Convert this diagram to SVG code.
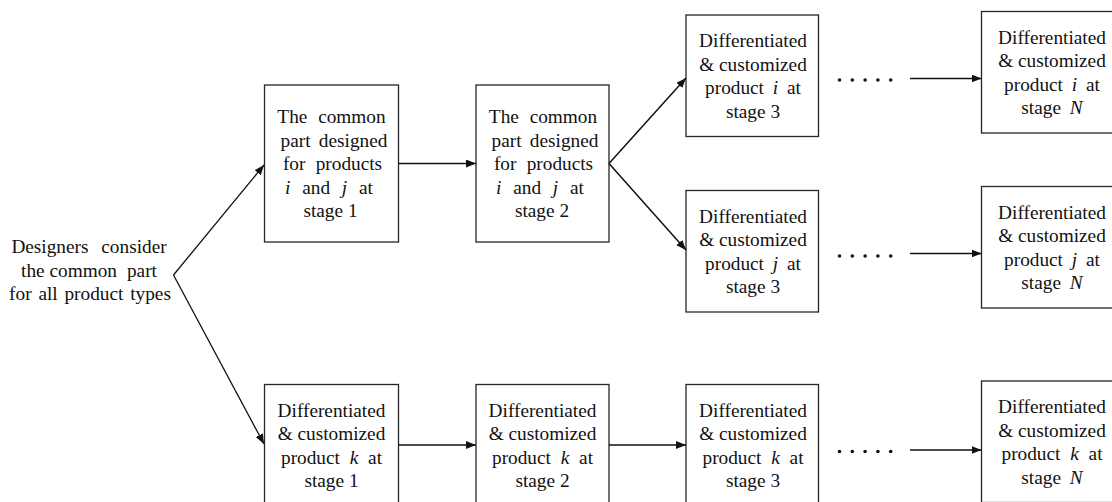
<svg xmlns="http://www.w3.org/2000/svg" width="1112" height="502" viewBox="0 0 1112 502">
<style>
.box{fill:#fff;stroke:#262626;stroke-width:1.3}
.t{font-family:"Liberation Serif","Times New Roman",serif;font-size:19.3px;fill:#111;text-anchor:middle}
.it{font-style:italic}
.c{fill:none;stroke:#111;stroke-width:1.5}
.d{fill:none;stroke:#111;stroke-width:1.3}
.dot{fill:#111}
</style>
<defs>
<marker id="ah" markerUnits="userSpaceOnUse" markerWidth="12" markerHeight="10" refX="10" refY="4" orient="auto">
<path d="M0,0 L10,4 L0,8 Z" fill="#111"/>
</marker>
</defs>
<rect width="1112" height="502" fill="#fff"/>

<g id="start">
<text class="t" x="89" y="253" word-spacing="8">Designers consider</text>
<text class="t" x="89" y="276.5"><tspan>the common</tspan><tspan dx="10">part</tspan></text>
<text class="t" x="90" y="300" word-spacing="2">for all product types</text>
</g>

<g id="common1">
<rect class="box" x="264.5" y="85" width="134" height="157"/>
<text class="t" x="331.5" y="123" word-spacing="6">The common</text>
<text class="t" x="334" y="146.5" word-spacing="3.5">part designed</text>
<text class="t" x="332.5" y="170" word-spacing="5.5">for products</text>
<text class="t" x="329" y="193.5" word-spacing="7">
<tspan class="it">i</tspan> and <tspan class="it">j</tspan> at</text>
<text class="t" x="330.5" y="217">stage 1</text>
</g>

<g id="common2">
<rect class="box" x="476" y="85" width="133" height="157"/>
<text class="t" x="543" y="123" word-spacing="6">The common</text>
<text class="t" x="545" y="146.5" word-spacing="3.5">part designed</text>
<text class="t" x="543.5" y="170" word-spacing="5.5">for products</text>
<text class="t" x="540" y="193.5" word-spacing="7"><tspan class="it">i</tspan> and <tspan class="it">j</tspan> at</text>
<text class="t" x="542" y="217">stage 2</text>
</g>

<g id="i3">
<rect class="box" x="686" y="15" width="132.5" height="121.5"/>
<text class="t" x="753" y="47">Differentiated</text>
<text class="t" x="753" y="70.5">&amp; customized</text>
<text class="t" x="753" y="94" word-spacing="4">product <tspan class="it">i</tspan> at</text>
<text class="t" x="753" y="117.5">stage 3</text>
</g>

<g id="iN">
<rect class="box" x="981.5" y="11.5" width="141" height="121.5"/>
<text class="t" x="1052" y="43.5">Differentiated</text>
<text class="t" x="1052" y="67">&amp; customized</text>
<text class="t" x="1052" y="90.5" word-spacing="4">product <tspan class="it">i</tspan> at</text>
<text class="t" x="1052" y="114" word-spacing="4">stage <tspan class="it">N</tspan></text>
</g>

<g id="j3">
<rect class="box" x="686" y="190.5" width="132.5" height="121.5"/>
<text class="t" x="753" y="222.5">Differentiated</text>
<text class="t" x="753" y="246">&amp; customized</text>
<text class="t" x="753" y="269.5" word-spacing="4">product <tspan class="it">j</tspan> at</text>
<text class="t" x="753" y="293">stage 3</text>
</g>

<g id="jN">
<rect class="box" x="981.5" y="186.5" width="141" height="121.5"/>
<text class="t" x="1052" y="218.5">Differentiated</text>
<text class="t" x="1052" y="242">&amp; customized</text>
<text class="t" x="1052" y="265.5" word-spacing="4">product <tspan class="it">j</tspan> at</text>
<text class="t" x="1052" y="289" word-spacing="4">stage <tspan class="it">N</tspan></text>
</g>

<g id="k1">
<rect class="box" x="264.5" y="384.5" width="134" height="121.5"/>
<text class="t" x="331.5" y="416.5">Differentiated</text>
<text class="t" x="331.5" y="440">&amp; customized</text>
<text class="t" x="331.5" y="463.5" word-spacing="5">product <tspan class="it">k</tspan> at</text>
<text class="t" x="331.5" y="487">stage 1</text>
</g>

<g id="k2">
<rect class="box" x="476" y="384.5" width="133" height="121.5"/>
<text class="t" x="542.5" y="416.5">Differentiated</text>
<text class="t" x="542.5" y="440">&amp; customized</text>
<text class="t" x="542.5" y="463.5" word-spacing="5">product <tspan class="it">k</tspan> at</text>
<text class="t" x="542.5" y="487">stage 2</text>
</g>

<g id="k3">
<rect class="box" x="686" y="384.5" width="132.5" height="121.5"/>
<text class="t" x="753" y="416.5">Differentiated</text>
<text class="t" x="753" y="440">&amp; customized</text>
<text class="t" x="753" y="463.5" word-spacing="5">product <tspan class="it">k</tspan> at</text>
<text class="t" x="753" y="487">stage 3</text>
</g>

<g id="kN">
<rect class="box" x="981.5" y="381" width="141" height="121.5"/>
<text class="t" x="1052" y="413">Differentiated</text>
<text class="t" x="1052" y="436.5">&amp; customized</text>
<text class="t" x="1052" y="460" word-spacing="5">product <tspan class="it">k</tspan> at</text>
<text class="t" x="1052" y="483.5" word-spacing="4">stage <tspan class="it">N</tspan></text>
</g>

<g id="connectors">
<line class="d" x1="173.5" y1="275" x2="264" y2="165" marker-end="url(#ah)"/>
<line class="d" x1="173.5" y1="275" x2="264" y2="444" marker-end="url(#ah)"/>
<line class="c" x1="398.5" y1="163.5" x2="476" y2="163.5" marker-end="url(#ah)"/>
<line class="c" x1="609" y1="163.5" x2="686" y2="78" marker-end="url(#ah)"/>
<line class="c" x1="609" y1="163.5" x2="686" y2="250" marker-end="url(#ah)"/>
<line class="c" x1="910" y1="78.5" x2="981.5" y2="78.5" marker-end="url(#ah)"/>
<line class="c" x1="910" y1="253.5" x2="981.5" y2="253.5" marker-end="url(#ah)"/>
<line class="c" x1="398.5" y1="445" x2="476" y2="445" marker-end="url(#ah)"/>
<line class="c" x1="609" y1="445" x2="686" y2="445" marker-end="url(#ah)"/>
<line class="c" x1="910" y1="450" x2="981.5" y2="450" marker-end="url(#ah)"/>
<g class="dot">
<circle cx="839.5" cy="80" r="1.8"/><circle cx="852.3" cy="80" r="1.8"/><circle cx="865.1" cy="80" r="1.8"/><circle cx="877.9" cy="80" r="1.8"/><circle cx="890.7" cy="80" r="1.8"/>
<circle cx="839.5" cy="256" r="1.8"/><circle cx="852.3" cy="256" r="1.8"/><circle cx="865.1" cy="256" r="1.8"/><circle cx="877.9" cy="256" r="1.8"/><circle cx="890.7" cy="256" r="1.8"/>
<circle cx="839.5" cy="451.5" r="1.8"/><circle cx="852.3" cy="451.5" r="1.8"/><circle cx="865.1" cy="451.5" r="1.8"/><circle cx="877.9" cy="451.5" r="1.8"/><circle cx="890.7" cy="451.5" r="1.8"/>
</g>
</g>
</svg>
